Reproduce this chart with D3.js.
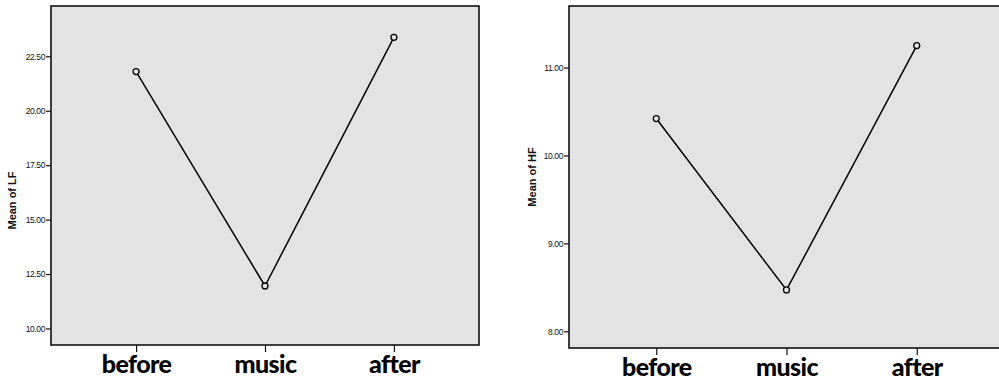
<!DOCTYPE html>
<html><head><meta charset="utf-8">
<script src="https://cdn.jsdelivr.net/npm/d3@7"></script>
<style>
html,body{margin:0;padding:0;background:#fff;}
svg{display:block;}
</style></head>
<body>
<svg id="c" width="999" height="381"></svg>
<script>
const categories = ["before", "music", "after"];
const lfValues = [21.8, 11.95, 23.37];
const hfValues = [10.42, 8.47, 11.25];
const lfTicks = [10, 12.5, 15, 17.5, 20, 22.5];
const hfTicks = [8, 9, 10, 11];

const svg = d3.select("#c");

function panel(cfg) {
  const g = svg.append("g");
  const x = d3.scalePoint().domain(categories).range([cfg.x0, cfg.x1]).padding(cfg.pad);
  const y = d3.scaleLinear().domain(cfg.domain).range([cfg.y1, cfg.y0]);
  g.append("rect").attr("x", cfg.x0).attr("y", cfg.y0)
    .attr("width", cfg.x1 - cfg.x0).attr("height", cfg.y1 - cfg.y0)
    .attr("fill", "#e3e3e3").attr("stroke", "#111").attr("stroke-width", 1.6);
  const ya = g.append("g").attr("transform", `translate(${cfg.x0},0)`)
    .call(d3.axisLeft(y).tickValues(cfg.ticks).tickSize(5).tickPadding(1).tickFormat(d3.format(".2f")));
  ya.select(".domain").remove();
  ya.selectAll("line").attr("stroke", "#111").attr("stroke-width", 1.2);
  ya.selectAll("text").attr("font-family", "Liberation Sans, Arial, sans-serif")
    .attr("font-size", 8.5).attr("fill", "#111").attr("letter-spacing", -0.4);
  const xa = g.append("g").attr("transform", `translate(0,${cfg.y1})`)
    .call(d3.axisBottom(x).tickSize(7).tickPadding(7));
  xa.select(".domain").remove();
  xa.selectAll("line").attr("stroke", "#111").attr("stroke-width", 1.2);
  xa.selectAll("text").attr("font-family", "Lato, sans-serif").attr("font-weight", 900)
    .attr("font-size", 25).attr("fill", "#000").attr("letter-spacing", -0.6)
    .attr("dy", "0.55em");
  g.append("text").attr("transform", `translate(${cfg.titleX},${(cfg.y0 + cfg.y1) / 2 + cfg.titleDy}) rotate(-90)`)
    .attr("text-anchor", "middle").attr("font-family", "Liberation Sans, Arial, sans-serif")
    .attr("font-weight", "bold").attr("font-size", 11).attr("fill", "#111").text(cfg.title);
  const pts = categories.map((c, i) => [x(c), y(cfg.values[i])]);
  g.append("path").attr("d", d3.line()(pts)).attr("fill", "none")
    .attr("stroke", "#000").attr("stroke-width", 1.5);
  g.selectAll("circle.m").data(pts).enter().append("circle")
    .attr("cx", d => d[0]).attr("cy", d => d[1]).attr("r", 3)
    .attr("fill", "#e3e3e3").attr("stroke", "#000").attr("stroke-width", 1.3);
}

panel({x0: 51, x1: 479, y0: 6, y1: 345, pad: 0.66, domain: [9.24, 24.81],
  ticks: lfTicks, values: lfValues, title: "Mean of LF", titleX: 16, titleDy: 25});
panel({x0: 569, x1: 1004, y0: 6, y1: 348, pad: 0.67, domain: [7.81, 11.7],
  ticks: hfTicks, values: hfValues, title: "Mean of HF", titleX: 536, titleDy: 0});
</script>
</body></html>
